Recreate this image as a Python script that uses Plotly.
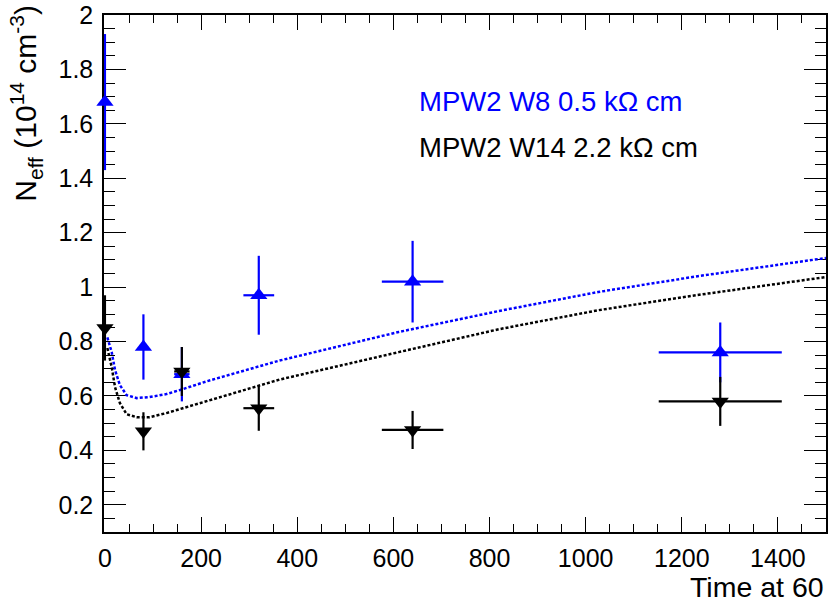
import plotly.graph_objects as go

# ---- data ----
time_pts = [0, 80, 160, 320, 640, 1280]
time_err = [0, 8, 16, 32, 64, 128]

w8_neff = [1.68, 0.78, 0.68, 0.97, 1.02, 0.76]
w8_err = [0.25, 0.12, 0.10, 0.145, 0.15, 0.11]

w14_neff = [0.85, 0.47, 0.69, 0.555, 0.475, 0.58]
w14_err = [0.12, 0.07, 0.09, 0.083, 0.07, 0.09]

fit_time = [5, 14, 21, 31, 45, 66, 93, 128, 162, 212, 363, 611, 819, 1026, 1233, 1500]
w8_fit = [0.815, 0.761, 0.695, 0.640, 0.603, 0.592, 0.596, 0.607, 0.625, 0.654,
          0.730, 0.835, 0.912, 0.982, 1.040, 1.107]
w14_fit = [0.776, 0.706, 0.632, 0.574, 0.533, 0.522, 0.522, 0.537, 0.555, 0.581,
           0.660, 0.761, 0.845, 0.915, 0.971, 1.037]

y_ticks = [0.2, 0.4, 0.6, 0.8, 1.0, 1.2, 1.4, 1.6, 1.8, 2.0]
y_tick_text = ["0.2", "0.4", "0.6", "0.8", "1", "1.2", "1.4", "1.6", "1.8", "2"]
x_ticks = [0, 200, 400, 600, 800, 1000, 1200, 1400]

label_w8 = "MPW2 W8 0.5 kΩ cm"
label_w14 = "MPW2 W14 2.2 kΩ cm"
y_title = "N<sub>eff</sub> (10<sup>14</sup> cm<sup>-3</sup>)"
x_title = "Time at 60"

BLUE = "#0000ff"
BLACK = "#000000"
FONT = "Liberation Sans, Arial, Helvetica, sans-serif"

L, W, T, H = 104, 724, 15, 517

fig = go.Figure()

fig.add_trace(go.Scatter(x=fit_time, y=w8_fit, mode="lines",
                         line=dict(color=BLUE, width=2.5, dash="3px,2px"),
                         showlegend=False, hoverinfo="skip"))
fig.add_trace(go.Scatter(x=fit_time, y=w14_fit, mode="lines",
                         line=dict(color=BLACK, width=2.5, dash="3px,2px"),
                         showlegend=False, hoverinfo="skip"))

fig.add_trace(go.Scatter(
    x=time_pts, y=w8_neff, mode="markers", cliponaxis=False,
    marker=dict(symbol="triangle-up", size=15, color=BLUE),
    error_y=dict(type="data", array=w8_err, color=BLUE, thickness=2.2, width=0),
    error_x=dict(type="data", array=time_err, color=BLUE, thickness=2.2, width=0),
    showlegend=False))
fig.add_trace(go.Scatter(
    x=time_pts, y=w14_neff, mode="markers", cliponaxis=False,
    marker=dict(symbol="triangle-down", size=15, color=BLACK),
    error_y=dict(type="data", array=w14_err, color=BLACK, thickness=2.2, width=0),
    error_x=dict(type="data", array=time_err, color=BLACK, thickness=2.2, width=0),
    showlegend=False))

axis_common = dict(showgrid=False, zeroline=False, showline=True, linecolor="black",
                   linewidth=1.5, mirror="ticks", ticks="inside", tickcolor="black",
                   layer="below traces",
                   tickfont=dict(family=FONT, size=25, color="black"))

fig.update_xaxes(range=[-2, 1500], tickvals=x_ticks, ticklen=15, tickwidth=1.2,
                 minor=dict(dtick=50, ticklen=8, ticks="inside", tickcolor="black", tickwidth=1.2),
                 ticklabelstandoff=3, **axis_common)
fig.update_yaxes(range=[0.1, 2.0], tickvals=y_ticks, ticktext=y_tick_text,
                 ticklen=22, tickwidth=1.2,
                 minor=dict(dtick=0.05, ticklen=11, ticks="inside", tickcolor="black", tickwidth=1.2),
                 ticklabelstandoff=4, **axis_common)

fig.add_annotation(text=y_title, textangle=-90, xref="paper", yref="paper",
                   x=(26 - L) / W, y=1 + 12 / H, xanchor="center", yanchor="top",
                   showarrow=False, font=dict(family=FONT, size=30, color="black"))
fig.add_annotation(text=x_title, xref="paper", yref="paper",
                   x=1.0, y=(T + H - 587) / H, xanchor="right", yanchor="middle",
                   showarrow=False, font=dict(family=FONT, size=28.5, color="black"))
fig.add_annotation(text=label_w8, xref="paper", yref="paper",
                   x=(418 - L) / W, y=(T + H - 101) / H, xanchor="left", yanchor="middle",
                   showarrow=False, font=dict(family=FONT, size=27.5, color=BLUE))
fig.add_annotation(text=label_w14, xref="paper", yref="paper",
                   x=(418 - L) / W, y=(T + H - 147) / H, xanchor="left", yanchor="middle",
                   showarrow=False, font=dict(family=FONT, size=27.5, color=BLACK))

fig.update_layout(width=829, height=607, margin=dict(l=L, r=829 - L - W, t=T, b=607 - T - H),
                  paper_bgcolor="white", plot_bgcolor="white",
                  font=dict(family=FONT, color="black"))

fig.write_html("out.html", config={"displayModeBar": False},
               post_script="document.body.style.margin='0';document.body.style.overflow='hidden';")
